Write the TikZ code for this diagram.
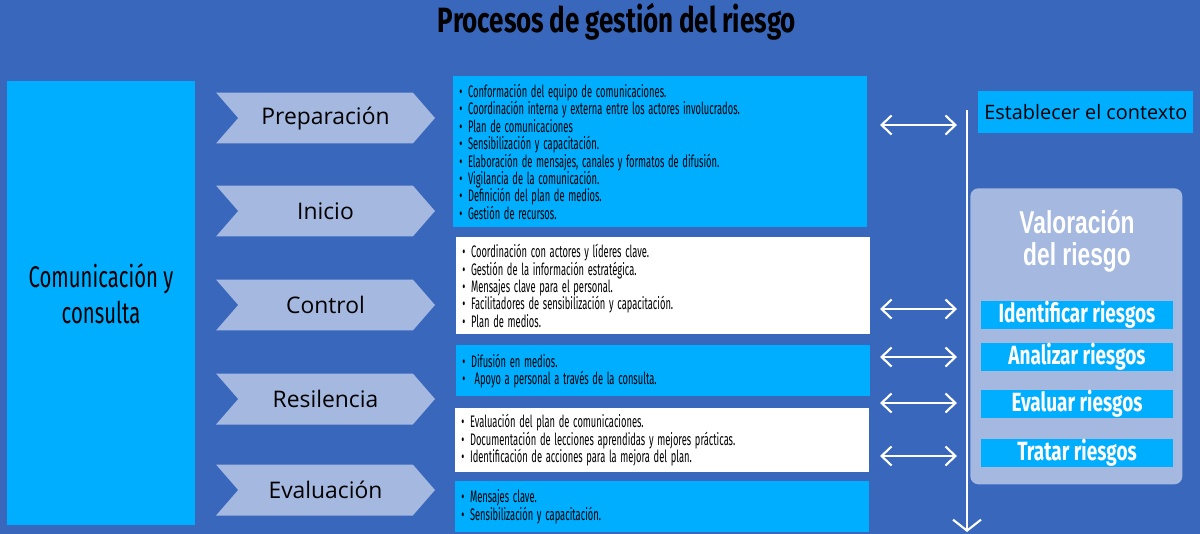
\documentclass[tikz,border=0pt]{standalone}
\usepackage{fontspec}
\setmainfont{Open Sans}
\newfontfamily\condfont[FakeStretch=0.68]{Fira Sans}
\newfontfamily\listfont[FakeStretch=0.56]{Fira Sans}
\newfontfamily\titlefont[FakeStretch=0.74,WordSpace=0.9]{Fira Sans}
\newfontfamily\stepfont[FakeStretch=0.72]{Fira Sans}
\newfontfamily\narrowfont[FakeStretch=0.72]{Liberation Sans}
\usetikzlibrary{positioning,calc,shapes.symbols,arrows.meta}

\definecolor{fondo}{RGB}{57,103,188}
\definecolor{cian}{RGB}{0,174,255}
\definecolor{claro}{RGB}{164,184,224}
\newcommand\vineta{\textbullet\hspace{3.2pt}}

\begin{document}
\begin{tikzpicture}[x=0.02cm,y=-0.02cm,
    fase/.style={signal,signal from=west,signal to=east,signal pointer angle=98,
        fill=claro,minimum width=4.38cm,minimum height=1.02cm,inner sep=0pt,
        font=\fontsize{13}{15}\selectfont},
    lista/.style={anchor=north west,minimum width=8.28cm,text width=8.04cm,
        inner xsep=0.12cm,align=left,font=\listfont\fontsize{9.5}{9.9}\selectfont,
        execute at begin node={\spaceskip=2.1pt\relax}},
    paso/.style={fill=cian,minimum width=3.84cm,minimum height=0.56cm,inner sep=0pt,
        text=white,font=\stepfont\bfseries\fontsize{15}{16}\selectfont},
    flecha/.style={draw=white,line width=1.2pt,
        {Straight Barb[length=0.2cm,width=0.38cm]}-{Straight Barb[length=0.2cm,width=0.38cm]}}]

    \fill[fondo] (0,0) rectangle (1200,534);
    \useasboundingbox (0,0) rectangle (1200,534);

    \node[font=\titlefont\bfseries\fontsize{20}{22}\selectfont] (titulo) at (617,22) {Procesos de gestión del riesgo};

    \node[fill=cian,anchor=north west,minimum width=3.76cm,minimum height=8.88cm] (cajacom) at (7,81) {};
    \node[align=center,font=\condfont\fontsize{17}{20.4}\selectfont] (comunicacion) at (101,294) {Comunicación y\\consulta};

    \foreach \y/\n/\t in {118/prep/Preparación,211/inicio/Inicio,305/control/Control,399/resil/Resilencia,490/eval/Evaluación} {
        \node[fase] (\n) at (325.5,\y) {\t}; }

    \node[lista,fill=cian,minimum height=3.02cm] (lprep) at (453,76) {%
        \vineta Conformación del equipo de comunicaciones.\\
        \vineta Coordinación interna y externa entre los actores involucrados.\\
        \vineta Plan de comunicaciones\\
        \vineta Sensibilización y capacitación.\\
        \vineta Elaboración de mensajes, canales y formatos de difusión.\\
        \vineta Vigilancia de la comunicación.\\
        \vineta Definición del plan de medios.\\
        \vineta Gestión de recursos.};
    \node[lista,fill=white,minimum height=1.94cm] (lcontrol) at (456,237) {%
        \vineta Coordinación con actores y líderes clave.\\
        \vineta Gestión de la información estratégica.\\
        \vineta Mensajes clave para el personal.\\
        \vineta Facilitadores de sensibilización y capacitación.\\
        \vineta Plan de medios.};
    \node[lista,fill=cian,minimum height=1.02cm] (lresil) at (456,345) {%
        \vineta Difusión en medios.\\
        \vineta\ Apoyo a personal a través de la consulta.};
    \node[lista,fill=white,minimum height=1.28cm] (leval) at (455,408) {%
        \vineta Evaluación del plan de comunicaciones.\\
        \vineta Documentación de lecciones aprendidas y mejores prácticas.\\
        \vineta Identificación de acciones para la mejora del plan.};
    \node[lista,fill=cian,minimum height=1.02cm] (lfin) at (455,481) {%
        \vineta Mensajes clave.\\
        \vineta Sensibilización y capacitación.};

    \node[fill=cian,anchor=north west,minimum width=4.3cm,minimum height=0.84cm,
        font=\fontsize{11.3}{13}\selectfont] (contexto) at (978,91) {Establecer el contexto};

    \node[fill=claro,rounded corners=0.16cm,anchor=north west,minimum width=4.24cm,minimum height=5.92cm] (valoracion) at (970,188) {};
    \node[text=white,align=center,font=\narrowfont\bfseries\fontsize{18}{18}\selectfont] (vtitulo) at (1077,241) {Valoración\\del riesgo};

    \foreach \y/\n/\t in {315/identificar/Identificar riesgos,357/analizar/Analizar riesgos,404/evaluar/Evaluar riesgos,453/tratar/Tratar riesgos} {
        \node[paso] (\n) at (1077,\y) {\t}; }

    \coordinate (ejeA) at (967,110);
    \coordinate (ejeB) at (967,532);
    \draw[white,line width=1.2pt,-{Straight Barb[length=0.22cm,width=0.56cm]}] (ejeA) -- (ejeB);

    \foreach \y [count=\i] in {125,309,357,403,456} {
        \coordinate (izq\i) at (880,\y);
        \coordinate (der\i) at (957,\y);
        \draw[flecha] (izq\i) -- (der\i); }
\end{tikzpicture}
\end{document}
